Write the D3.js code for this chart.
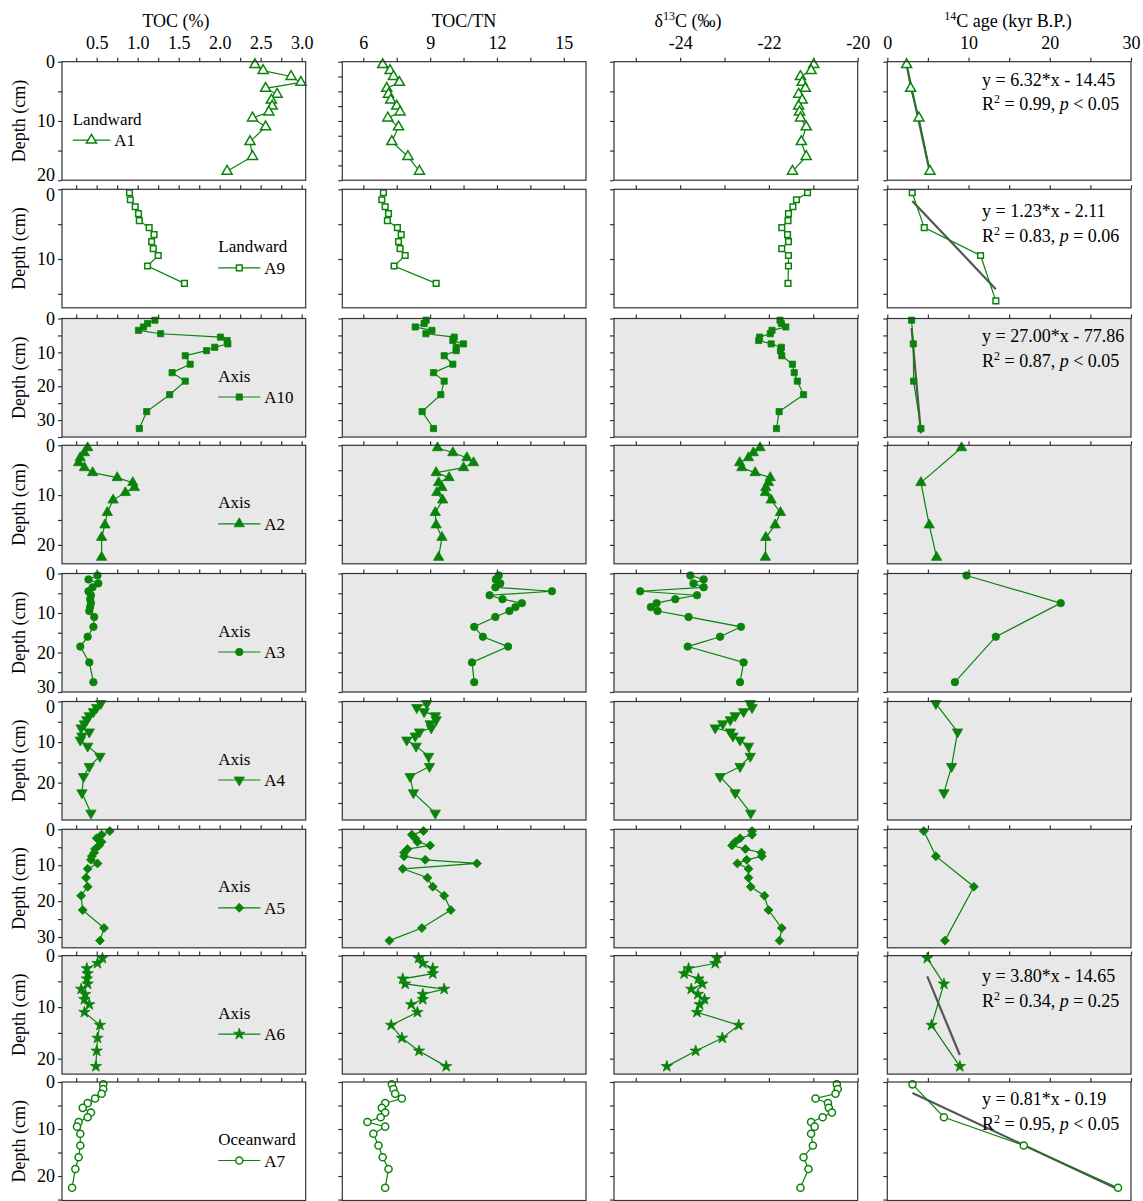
<!DOCTYPE html>
<html>
<head>
<meta charset="utf-8">
<script src="https://cdn.jsdelivr.net/npm/d3@7"></script>
<style>
  body { margin: 0; background: #fff; }
  text { font-family: "Liberation Serif", "Times New Roman", serif; fill: #000; }
</style>
</head>
<body>
<svg id="chart" width="1143" height="1201"></svg>
<script>
// ---------------- data ----------------
const cores  = ["A1", "A9", "A10", "A2", "A3", "A4", "A5", "A6", "A7"];
const groups = ["Landward", "Landward", "Axis", "Axis", "Axis", "Axis", "Axis", "Axis", "Oceanward"];
const colTitles = ["TOC (%)", "TOC/TN", "δ13C (‰)", "14C age (kyr B.P.)"];

// sample depths (cm) for TOC, TOC/TN and δ13C
const depthA1  = [0.5,1.5,2.5,3.5,4.5,5.5,6.5,7.5,8.5,9.5,11,13.5,16,18.5];
const depthA9  = [0.5,1.5,2.5,3.5,4.5,5.5,6.5,7.5,8.5,9.5,11,13.5];
const depthA10 = [0.5,1.5,2.5,3.5,4.5,5.5,6.5,7.5,8.5,9.5,11,13.5,16,18.5,22.5,27.5,32.5];
const depthA2  = [0.5,1.5,2.5,3.5,4.5,5.5,6.5,7.5,8.5,9.5,11,13.5,16,18.5,22.5];
const depthA3  = [0.5,1.5,2.5,3.5,4.5,5.5,6.5,7.5,8.5,9.5,11,13.5,16,18.5,22.5,27.5];
const depthA4  = [0.5,1.5,2.5,3.5,4.5,5.5,6.5,7.5,8.5,9.5,11,13.5,16,18.5,22.5,27.5];
const depthA5  = [0.5,1.5,2.5,3.5,4.5,5.5,6.5,7.5,8.5,9.5,11,13.5,16,18.5,22.5,27.5,31];
const depthA6  = [0.5,1.5,2.5,3.5,4.5,5.5,6.5,7.5,8.5,9.5,11,13.5,16,18.5,21.5];
const depthA7  = [0.5,1.5,2.5,3.5,4.5,5.5,6.5,7.5,8.5,9.5,11,13.5,16,18.5,22.5];

// TOC (%)
const tocA1  = [2.43,2.53,2.87,2.99,2.56,2.70,2.63,2.64,2.60,2.40,2.56,2.37,2.40,2.09];
const tocA9  = [0.90,0.91,0.97,1.01,1.02,1.14,1.20,1.17,1.19,1.25,1.12,1.57];
const tocA10 = [1.21,1.12,1.07,1.01,1.28,2.01,2.09,2.10,1.94,1.84,1.58,1.64,1.42,1.58,1.39,1.11,1.02];
const tocA2  = [0.39,0.35,0.30,0.28,0.35,0.45,0.75,0.94,0.96,0.85,0.70,0.63,0.60,0.56,0.56];
const tocA3  = [0.51,0.40,0.52,0.45,0.40,0.43,0.42,0.43,0.42,0.41,0.47,0.46,0.39,0.30,0.41,0.46];
const tocA4  = [0.55,0.50,0.46,0.41,0.38,0.35,0.31,0.41,0.32,0.30,0.39,0.54,0.41,0.34,0.32,0.43];
const tocA5  = [0.66,0.56,0.50,0.56,0.53,0.48,0.47,0.44,0.43,0.51,0.39,0.37,0.39,0.31,0.33,0.59,0.54];
const tocA6  = [0.57,0.51,0.38,0.39,0.38,0.39,0.31,0.36,0.35,0.41,0.35,0.54,0.51,0.50,0.49];
const tocA7  = [0.58,0.58,0.56,0.48,0.39,0.33,0.43,0.39,0.28,0.26,0.30,0.30,0.28,0.24,0.20];

// TOC/TN
const ctnA1  = [6.87,7.20,7.35,7.62,7.05,7.13,7.23,7.50,7.65,7.10,7.58,7.28,8.00,8.52];
const ctnA9  = [6.90,6.83,6.98,7.13,7.08,7.53,7.70,7.58,7.65,7.88,7.38,9.27];
const ctnA10 = [8.82,8.73,8.33,9.08,8.81,10.08,10.02,10.50,10.17,10.17,9.63,10.02,9.15,9.63,9.48,8.64,9.15];
const ctnA2  = [9.33,10.02,10.65,10.95,10.50,9.27,9.85,9.38,9.53,9.30,9.56,9.23,9.27,9.53,9.38];
const ctnA3  = [12.08,11.95,12.15,11.93,14.47,11.67,12.25,13.12,12.83,12.56,11.93,10.98,11.37,12.50,10.88,10.98];
const ctnA4  = [8.85,8.40,8.73,9.23,9.27,9.00,9.05,8.52,8.33,7.95,8.37,8.93,8.97,8.10,8.25,9.23];
const ctnA5  = [8.70,8.18,8.33,8.43,9.00,7.98,7.83,7.83,8.78,11.10,7.77,8.88,9.12,9.63,9.93,8.63,7.17];
const ctnA6  = [8.48,8.67,9.12,9.12,7.77,7.88,9.63,8.67,8.67,8.15,8.43,7.25,7.73,8.50,9.72];
const ctnA7  = [7.28,7.35,7.43,7.73,6.98,6.83,6.98,6.78,6.18,6.98,6.45,6.68,6.87,7.13,6.98];

// δ13C (‰)
const d13cA1  = [-20.99,-21.05,-21.29,-21.25,-21.18,-21.33,-21.25,-21.33,-21.31,-21.29,-21.16,-21.27,-21.16,-21.47];
const d13cA9  = [-21.13,-21.38,-21.46,-21.56,-21.57,-21.71,-21.58,-21.56,-21.71,-21.56,-21.56,-21.57];
const d13cA10 = [-21.75,-21.72,-21.62,-21.93,-21.97,-22.21,-22.23,-21.95,-21.72,-21.74,-21.71,-21.47,-21.43,-21.36,-21.22,-21.77,-21.83];
const d13cA2  = [-22.20,-22.35,-22.46,-22.66,-22.61,-22.31,-21.97,-22.01,-22.07,-22.08,-21.95,-21.74,-21.86,-22.07,-22.08];
const d13cA3  = [-23.77,-23.47,-23.70,-23.47,-24.90,-23.62,-24.11,-24.53,-24.66,-24.51,-23.81,-22.63,-23.10,-23.83,-22.57,-22.65];
const d13cA4  = [-22.42,-22.38,-22.57,-22.76,-22.87,-23.04,-23.21,-22.87,-22.81,-22.65,-22.46,-22.42,-22.65,-23.10,-22.76,-22.41];
const d13cA5  = [-22.38,-22.38,-22.65,-22.76,-22.83,-22.53,-22.17,-22.16,-22.50,-22.71,-22.46,-22.46,-22.41,-22.10,-22.01,-21.71,-21.76];
const d13cA6  = [-23.17,-23.21,-23.81,-23.91,-23.59,-23.50,-23.75,-23.60,-23.45,-23.56,-23.62,-22.68,-23.05,-23.65,-24.30];
const d13cA7  = [-20.47,-20.45,-20.50,-20.95,-20.67,-20.65,-20.58,-20.79,-21.05,-20.97,-21.05,-21.01,-21.22,-21.11,-21.29];

// radiocarbon samples: depth (cm) and age (kyr B.P.)
const ageDepthA1  = [0.5,4.5,9.5,18.5];   const ageA1  = [2.38,2.87,3.89,5.25];
const ageDepthA9  = [0.5,5.5,9.5,16];     const ageA9  = [3.07,4.55,11.48,13.36];
const ageDepthA10 = [0.5,7.5,18.5,32.5];  const ageA10 = [2.99,3.20,3.24,4.14];
const ageDepthA2  = [0.5,7.5,16,22.5];    const ageA2  = [9.14,4.14,5.16,6.07];
const ageDepthA3  = [0.5,7.5,16,27.5];    const ageA3  = [9.75,21.35,13.36,8.32];
const ageDepthA4  = [0.5,7.5,16,22.5];    const ageA4  = [5.98,8.65,7.91,6.97];
const ageDepthA5  = [0.5,7.5,16,31];      const ageA5  = [4.50,5.98,10.66,7.09];
const ageDepthA6  = [0.5,5.5,13.5,21.5];  const ageA6  = [4.92,6.97,5.45,8.93];
const ageDepthA7  = [0.5,7.5,13.5,22.5];  const ageA7  = [3.10,6.97,16.80,28.40];

// linear fits of depth on age: depth = slope * age + intercept
const fitCores      = ["A1", "A9", "A10", "A6", "A7"];
const fitSlope      = [6.32, 1.23, 27.00, 3.80, 0.81];
const fitIntercept  = [-14.45, -2.11, -77.86, -14.65, -0.19];
const fitR2         = ["0.99", "0.83", "0.87", "0.34", "0.95"];
const fitP          = ["< 0.05", "= 0.06", "< 0.05", "= 0.25", "< 0.05"];

// x-axis ticks
const tocTicks  = d3.range(1, 13).map(i => i * 0.25);
const tocLabels = [0.5, 1.0, 1.5, 2.0, 2.5, 3.0];
const ctnTicks  = [6, 7.5, 9, 10.5, 12, 13.5, 15];
const ctnLabels = [6, 9, 12, 15];
const d13cTicks = [-25, -24, -23, -22, -21, -20];
const d13cLabels = [-24, -22, -20];
const ageTicks  = [0, 5, 10, 15, 20, 25, 30];
const ageLabels = [0, 10, 20, 30];

// ---------------- layout ----------------
const depths   = [depthA1, depthA9, depthA10, depthA2, depthA3, depthA4, depthA5, depthA6, depthA7];
const tocs     = [tocA1, tocA9, tocA10, tocA2, tocA3, tocA4, tocA5, tocA6, tocA7];
const ctns     = [ctnA1, ctnA9, ctnA10, ctnA2, ctnA3, ctnA4, ctnA5, ctnA6, ctnA7];
const d13cs    = [d13cA1, d13cA9, d13cA10, d13cA2, d13cA3, d13cA4, d13cA5, d13cA6, d13cA7];
const ageDepths = [ageDepthA1, ageDepthA9, ageDepthA10, ageDepthA2, ageDepthA3, ageDepthA4, ageDepthA5, ageDepthA6, ageDepthA7];
const ages     = [ageA1, ageA9, ageA10, ageA2, ageA3, ageA4, ageA5, ageA6, ageA7];

const colLeft  = [62, 342.3, 614, 887.3];
const colW     = 243.7;
const rowTop   = [61.7, 189.3, 318.5, 445.3, 573.5, 701.5, 829.3, 955.6, 1082];
const rowH     = 118.5;
const depthMax = [20, 17, 35, 23.8, 30, 29.2, 33, 23, 25.2];
const shaded   = [false, false, true, true, true, true, true, true, false];
const leftTickStep = [[5, 2.5, 5, 5], [5, 5, 5, 5]];

const xDomains = [[0.077, 3.049], [5.055, 16.0], [-25.49, -20.0], [0, 30]];
const xTicks   = [tocTicks, ctnTicks, d13cTicks, ageTicks];
const xLabels  = [tocLabels, ctnLabels, d13cLabels, ageLabels];
const hyphen   = f => v => f(v).replace("\u2212", "-");
const xFormats = [d3.format(".1f"), hyphen(d3.format("d")), hyphen(d3.format("d")), hyphen(d3.format("d"))];
const titleX   = [176, 464, 688, 1008];

const GREEN = "#0a830a";
const symbolFor = [
  { type: d3.symbolTriangle, size: 44, open: true,  rot: 0 },
  { type: d3.symbolSquare,   size: 32, open: true,  rot: 0 },
  { type: d3.symbolSquare,   size: 38, open: false, rot: 0 },
  { type: d3.symbolTriangle, size: 46, open: false, rot: 0 },
  { type: d3.symbolCircle,   size: 44, open: false, rot: 0 },
  { type: d3.symbolTriangle, size: 46, open: false, rot: 180 },
  { type: d3.symbolSquare,   size: 40, open: false, rot: 45 },
  { type: d3.symbolStar,     size: 40, open: false, rot: 0 },
  { type: d3.symbolCircle,   size: 40, open: true,  rot: 0 }
];
const eqBase = { A1: [24, 48.5], A9: [27.4, 52.4], A10: [23.8, 48.8], A6: [26.5, 51], A7: [22.6, 47.7] };

// a depth label that sits on a panel's bottom edge
const hasBottomLabel = r => Math.abs(depthMax[r] / 10 - Math.round(depthMax[r] / 10)) < 0.03;

const svg = d3.select("#chart");

function drawMarkers(g, pts, sym) {
  const path = d3.symbol().type(sym.type).size(sym.size)();
  g.selectAll(null).data(pts).join("path")
    .attr("d", path)
    .attr("transform", d => `translate(${d[0]},${d[1]}) rotate(${sym.rot})`)
    .attr("fill", sym.open ? "#fff" : GREEN)
    .attr("stroke", GREEN)
    .attr("stroke-width", sym.open ? 1.5 : 0.8);
}

// column titles
colTitles.forEach((t, c) => {
  const tx = svg.append("text").attr("x", titleX[c]).attr("y", 27)
    .attr("text-anchor", "middle").attr("font-size", 18);
  if (c === 2) {
    tx.append("tspan").text("δ");
    tx.append("tspan").attr("font-size", 12).attr("dy", -7).text("13");
    tx.append("tspan").attr("dy", 7).text("C (‰)");
  } else if (c === 3) {
    tx.append("tspan").attr("font-size", 12).attr("dy", -7).text("14");
    tx.append("tspan").attr("dy", 7).text("C age (kyr B.P.)");
  } else {
    tx.text(t);
  }
});

cores.forEach((core, r) => {
  const y = d3.scaleLinear().domain([0, depthMax[r]]).range([rowTop[r], rowTop[r] + rowH]);
  const sym = symbolFor[r];

  for (let c = 0; c < 4; c++) {
    const x = d3.scaleLinear().domain(xDomains[c]).range([colLeft[c], colLeft[c] + colW]);
    const g = svg.append("g");

    // panel background
    g.append("rect")
      .attr("x", colLeft[c]).attr("y", rowTop[r]).attr("width", colW).attr("height", rowH)
      .attr("fill", shaded[r] ? "#e8e8e8" : "#fff");

    // top axis
    const labelSet = xLabels[c];
    const topAxis = d3.axisTop(x).tickValues(xTicks[c]).tickSize(4).tickPadding(9)
      .tickFormat(v => (r === 0 && labelSet.some(l => Math.abs(l - v) < 1e-9)) ? xFormats[c](v) : "");
    const ga = g.append("g").attr("transform", `translate(0,${rowTop[r]})`).call(topAxis);
    ga.select(".domain").remove();
    ga.selectAll("line").attr("stroke", "#333").attr("stroke-width", 1.2);
    ga.selectAll("text").attr("font-size", 18).attr("fill", "#000")
      .attr("font-family", "Liberation Serif, serif");

    // left axis
    const step = (r === 0) ? leftTickStep[0][c] : leftTickStep[1][c];
    const lt = d3.range(0, depthMax[r] + 1e-6, step);
    const leftAxis = d3.axisLeft(y).tickValues(lt).tickSize(4).tickPadding(3)
      .tickFormat(v => (c === 0 && v % 10 === 0) ? d3.format("d")(v) : "");
    const gl = g.append("g").attr("transform", `translate(${colLeft[c]},0)`).call(leftAxis);
    gl.select(".domain").remove();
    gl.selectAll("line").attr("stroke", "#333").attr("stroke-width", 1.2);
    const aboveHasBottom = r > 0 && hasBottomLabel(r - 1);
    gl.selectAll("text").attr("font-size", 18).attr("fill", "#000")
      .attr("font-family", "Liberation Serif, serif")
      // keep the "0" of one panel clear of the bottom label of the panel above
      .attr("dy", v => {
        if (v === 0 && aboveHasBottom) return "0.62em";
        if (v > 0 && hasBottomLabel(r) && Math.abs(v - depthMax[r]) < 0.5) return "0em";
        return "0.32em";
      });

    // series
    let pts;
    if (c < 3) {
      const vals = [tocs, ctns, d13cs][c][r];
      pts = depths[r].map((d, i) => [x(vals[i]), y(d)]);
    } else {
      pts = ageDepths[r].map((d, i) => [x(ages[r][i]), y(d)]);
    }

    // regression line on the age panel
    const fi = fitCores.indexOf(core);
    if (c === 3 && fi >= 0) {
      const a0 = d3.min(ages[r]), a1 = d3.max(ages[r]);
      const depthAt = a => fitSlope[fi] * a + fitIntercept[fi];
      g.append("line")
        .attr("x1", x(a0)).attr("y1", y(depthAt(a0)))
        .attr("x2", x(a1)).attr("y2", y(depthAt(a1)))
        .attr("stroke", "#555").attr("stroke-width", 2.2);
    }

    g.append("path").datum(pts)
      .attr("d", d3.line())
      .attr("fill", "none").attr("stroke", GREEN).attr("stroke-width", 1.2);
    drawMarkers(g, pts, sym);

    // equation text
    if (c === 3 && fi >= 0) {
      const ex = 982;
      const b = eqBase[core];
      const fmt = d3.format(".2f");
      const ic = fitIntercept[fi];
      g.append("text").attr("x", ex).attr("y", rowTop[r] + b[0]).attr("font-size", 18)
        .text(`y = ${fmt(fitSlope[fi])}*x ${ic < 0 ? "-" : "+"} ${fmt(Math.abs(ic))}`);
      const t2 = g.append("text").attr("x", ex).attr("y", rowTop[r] + b[1]).attr("font-size", 18);
      t2.append("tspan").text("R");
      t2.append("tspan").attr("font-size", 12).attr("dy", -7).text("2");
      t2.append("tspan").attr("dy", 7).text(` = ${fitR2[fi]}, `);
      t2.append("tspan").attr("font-style", "italic").text("p");
      t2.append("tspan").text(` ${fitP[fi]}`);
    }

    // frame
    g.append("rect")
      .attr("x", colLeft[c]).attr("y", rowTop[r]).attr("width", colW).attr("height", rowH)
      .attr("fill", "none").attr("stroke", "#333").attr("stroke-width", 1.2);
  }

  // depth axis title
  const cy = rowTop[r] + rowH / 2;
  svg.append("text")
    .attr("transform", `translate(25,${cy}) rotate(-90)`)
    .attr("text-anchor", "middle").attr("font-size", 18)
    .text("Depth (cm)");

  // legend
  const lx = r === 0 ? 72.7 : 218.3;
  const lw = r === 0 ? 37.5 : 42;
  const gy = rowTop[r] + 63;
  const ly = rowTop[r] + 78.5;
  svg.append("text").attr("x", lx).attr("y", gy).attr("font-size", 17).text(groups[r]);
  svg.append("line").attr("x1", lx).attr("x2", lx + lw).attr("y1", ly).attr("y2", ly)
    .attr("stroke", GREEN).attr("stroke-width", 1.2);
  drawMarkers(svg.append("g"), [[lx + lw / 2, ly]], sym);
  svg.append("text").attr("x", lx + lw + 4).attr("y", ly + 6).attr("font-size", 17).text(core);
});
</script>
</body>
</html>
